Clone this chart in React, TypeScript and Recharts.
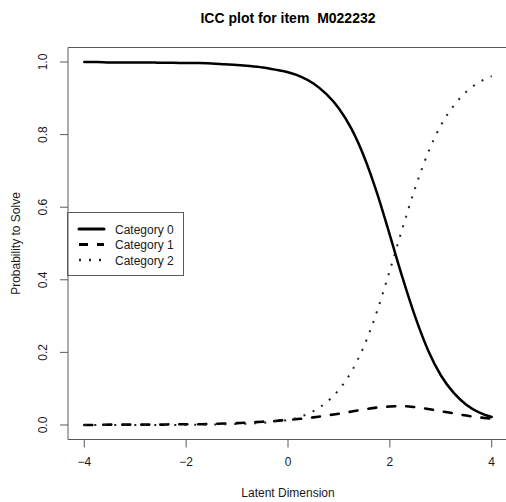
import React from "react";
import { LineChart, Line, XAxis, YAxis, ReferenceArea, Customized } from "recharts";

const latent = [-4, -3.75, -3.5, -3.25, -3, -2.75, -2.5, -2.25, -2, -1.75, -1.5, -1.25, -1, -0.75, -0.5, -0.25, 0, 0.25, 0.5, 0.75, 1, 1.25, 1.5, 1.75, 2, 2.25, 2.5, 2.75, 3, 3.25, 3.5, 3.75, 4];
const category0 = [1.0, 1.0, 0.999, 0.999, 0.999, 0.999, 0.998, 0.998, 0.997, 0.997, 0.996, 0.994, 0.992, 0.989, 0.985, 0.979, 0.972, 0.96, 0.941, 0.912, 0.872, 0.815, 0.737, 0.638, 0.523, 0.405, 0.297, 0.206, 0.137, 0.089, 0.056, 0.035, 0.022];
const category1 = [0.0, 0.0, 0.001, 0.001, 0.001, 0.001, 0.001, 0.002, 0.002, 0.002, 0.003, 0.004, 0.005, 0.007, 0.009, 0.011, 0.014, 0.017, 0.021, 0.026, 0.031, 0.037, 0.043, 0.048, 0.051, 0.052, 0.049, 0.044, 0.038, 0.032, 0.026, 0.021, 0.017];
const category2 = [0.0, 0.0, 0.0, 0.0, 0.0, 0.0, 0.0, 0.0, 0.0, 0.001, 0.001, 0.002, 0.003, 0.004, 0.006, 0.01, 0.014, 0.023, 0.038, 0.062, 0.097, 0.148, 0.22, 0.314, 0.426, 0.543, 0.654, 0.75, 0.825, 0.879, 0.918, 0.944, 0.961];

const xTicks = [-4, -2, 0, 2, 4];
const yTicks = [0, 0.2, 0.4, 0.6, 0.8, 1.0];
const seriesNames = ["Category 0", "Category 1", "Category 2"];
const seriesKeys = ["c0", "c1", "c2"];

const title = "ICC plot for item  M022232";
const xTitle = "Latent Dimension";
const yTitle = "Probability to Solve";

const data = latent.map((x, i) => ({ x, c0: category0[i], c1: category1[i], c2: category2[i] }));

const FONT = "'Liberation Sans', Arial, sans-serif";
const BOX = "#5a5a5a";
const TXT = "#1a1a1a";

const styles = [
  { strokeWidth: 2.5, dash: undefined as string | undefined, cap: "round" as const, color: "#000" },
  { strokeWidth: 2.6, dash: "8 11", cap: "round" as const, color: "#000" },
  { strokeWidth: 2, dash: "2 8", cap: "butt" as const, color: "#222" },
];

const YTick = (props: any) => {
  const { x, y, payload } = props;
  return (
    <text
      x={x}
      y={y}
      transform={`rotate(-90 ${x} ${y})`}
      textAnchor="middle"
      fontFamily={FONT}
      fontSize={12}
      fill={TXT}
    >
      {payload.value.toFixed(1)}
    </text>
  );
};

const Overlay = () => (
  <g>
    <text x={288} y={23} textAnchor="middle" fontFamily={FONT} fontSize={14} fontWeight="bold" fill="#000" style={{ whiteSpace: "pre" }}>
      {title}
    </text>
    <text x={288} y={497} textAnchor="middle" fontFamily={FONT} fontSize={12} fill={TXT}>
      {xTitle}
    </text>
    <text
      x={20}
      y={243.5}
      transform="rotate(-90 20 243.5)"
      textAnchor="middle"
      fontFamily={FONT}
      fontSize={12}
      fill={TXT}
    >
      {yTitle}
    </text>
    <rect x={67.5} y={212.5} width={116} height={63} fill="#fff" stroke={BOX} strokeWidth={1} />
    {seriesNames.map((name, i) => (
      <g key={name}>
        <line
          x1={79}
          x2={104}
          y1={229 + i * 15.5}
          y2={229 + i * 15.5}
          stroke={styles[i].color}
          strokeWidth={i === 1 ? 3 : styles[i].strokeWidth + (i === 2 ? 0.3 : 0.5)}
          strokeDasharray={i === 1 ? "9 9" : styles[i].dash}
          strokeLinecap={i === 1 ? "butt" : styles[i].cap}
        />
        <text x={115} y={233.5 + i * 15.5} fontFamily={FONT} fontSize={12} fill={TXT}>
          {name}
        </text>
      </g>
    ))}
  </g>
);

export default function App() {
  return (
    <div style={{ position: "absolute", left: 0, top: 0, width: 506, height: 502, overflow: "hidden", background: "#fff" }}>
      <LineChart width={512} height={502} data={data} margin={{ top: 47.5, right: 4, bottom: 0, left: 0 }}>
        <XAxis
          dataKey="x"
          type="number"
          domain={[-4.32, 4.32]}
          ticks={xTicks}
          allowDataOverflow
          axisLine={false}
          tickLine={{ stroke: BOX }}
          tickSize={8}
          tickMargin={10}
          height={62.5}
          tick={{ fontFamily: FONT, fontSize: 12, fill: TXT }}
          tickFormatter={(v: number) => String(v).replace("-", "\u2212")}
        />
        <YAxis
          type="number"
          domain={[-0.04, 1.04]}
          ticks={yTicks}
          allowDataOverflow
          axisLine={false}
          tickLine={{ stroke: BOX }}
          tickSize={8}
          tickMargin={13}
          width={68}
          tick={<YTick />}
        />
        <ReferenceArea x1={-4.32} x2={4.32} y1={-0.04} y2={1.04} fill="none" stroke={BOX} strokeWidth={1} ifOverflow="visible" />
        {seriesKeys.map((k, i) => (
          <Line
            key={k}
            dataKey={k}
            name={seriesNames[i]}
            type="monotone"
            stroke={styles[i].color}
            strokeWidth={styles[i].strokeWidth}
            strokeDasharray={styles[i].dash}
            strokeLinecap={styles[i].cap}
            dot={false}
            activeDot={false}
            isAnimationActive={false}
          />
        ))}
        <Customized component={Overlay} />
      </LineChart>
    </div>
  );
}
